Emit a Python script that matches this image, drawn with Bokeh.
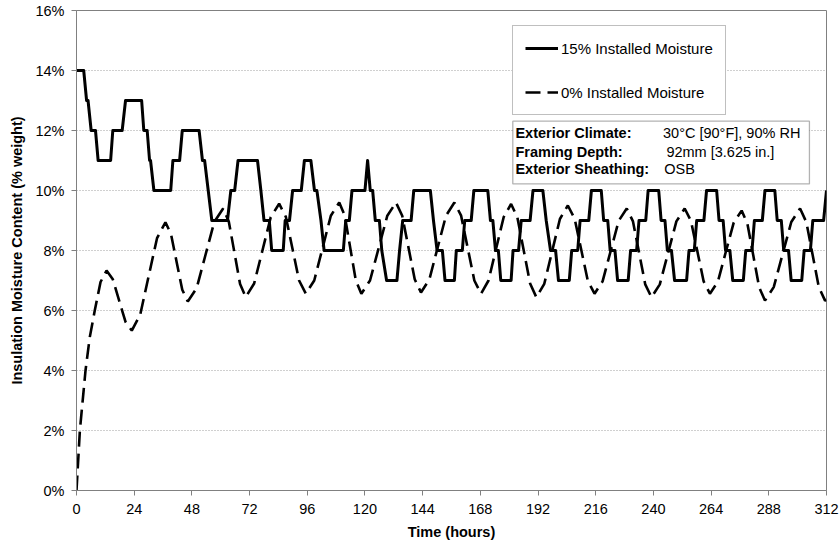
from bokeh.plotting import figure
from bokeh.models import Range1d, FixedTicker, Legend, LegendItem, BoxAnnotation, Label
from bokeh.embed import file_html
from bokeh.resources import INLINE

# ---------------- data ----------------
x_ticks = [0, 24, 48, 72, 96, 120, 144, 168, 192, 216, 240, 264, 288, 312]
y_ticks = [0, 2, 4, 6, 8, 10, 12, 14, 16]
y_tick_labels = ["0%", "2%", "4%", "6%", "8%", "10%", "12%", "14%", "16%"]

series_names = ["15% Installed Moisture", "0% Installed Moisture"]

# 15% installed moisture (time in hours, moisture content in % weight)
solid_hours = [0, 3, 4.2, 4.8, 6.1, 7.9, 9, 14.2, 15.1, 19, 20.4, 27.1, 28, 29.4, 30.4, 30.8,
               32.2, 39.2, 40.1, 42.9, 44, 51, 52.4, 53.3, 54.8, 56.3, 62.8, 64.2, 65.8, 67.2,
               75.3, 76.7, 78, 80.2, 81.2, 86, 86.8, 88.6, 89.9, 93.5, 94.8, 97.5, 99, 100,
               101.7, 103, 111, 112, 113.5, 114.6, 120, 121.1, 122.2, 123.2, 124.3, 126, 127,
               129, 133.3, 134.4, 135.7, 139.2, 140.3, 147.2, 148.5, 150, 152.2, 153.3, 157.2,
               158, 160.5, 161.5, 164.2, 165.3, 171.1, 172.2, 173.2, 174.3, 175.5, 176.5, 180.8,
               181.6, 183.9, 185, 188.7, 189.9, 194, 195.4, 197.2, 199.3, 200.5, 205, 206, 208.5,
               209.5, 213.1, 214.2, 218.3, 219.3, 221, 222, 224, 225.1, 229.5, 230.5, 233, 234,
               236.8, 237.8, 242.2, 243.2, 244.8, 245.8, 247.5, 248.8, 253.8, 254.8, 257, 258,
               261, 262.1, 266.3, 267.3, 269, 270, 271.8, 273, 277.4, 278.4, 281, 282, 285.3,
               286.4, 290.5, 291.5, 293.2, 294.2, 296.2, 297.3, 301.7, 302.7, 305.3, 306.3,
               310.8, 312]
solid_pct = [14, 14, 13, 13, 12, 12, 11, 11, 12, 12, 13, 13, 12, 12, 11, 11,
             10, 10, 11, 11, 12, 12, 11, 11, 10, 9, 9, 10, 10, 11,
             11, 10, 9, 9, 8, 8, 9, 9, 10, 10, 11, 11, 10, 10,
             9, 8, 8, 9, 9, 10, 10, 11, 10, 10, 9, 9, 8,
             7, 7, 8, 9, 9, 10, 10, 9, 8, 8, 7, 7,
             8, 8, 9, 9, 10, 10, 9, 9, 8, 8, 7, 7,
             8, 8, 9, 9, 10, 10, 9, 8, 8, 7, 7, 8, 8,
             9, 9, 10, 10, 9, 9, 8, 8, 7, 7, 8, 8, 9,
             9, 10, 10, 9, 9, 8, 8, 7, 7, 8, 8, 9,
             9, 10, 10, 9, 9, 8, 8, 7, 7, 8, 8, 9, 9,
             10, 10, 9, 9, 8, 8, 7, 7, 8, 8, 9,
             9, 10]

# 0% installed moisture
dashed_hours = [0, 1.4, 3.75, 5.5, 7.6, 10, 12.5, 15.1, 17.75, 20.4, 23, 26.5, 30, 33.5, 37,
                39.3, 41.65, 44, 46.3, 50, 53.65, 57.3, 61, 63.35, 65.7, 68.05, 70.4, 73.9,
                77.35, 80.8, 84.3, 87.1, 89.85, 92.6, 95.4, 98.9, 102.35, 105.8, 109.3, 111.6,
                113.9, 116.2, 118.5, 122.1, 125.7, 129.3, 132.9, 135.5, 138.1, 140.7, 143.3,
                146.8, 150.25, 153.7, 157.2, 160, 162.75, 165.5, 168.3, 171.4, 174.55, 177.7,
                180.8, 183.4, 186.05, 188.7, 191.3, 194.6, 197.85, 201.1, 204.4, 207.2, 209.95,
                212.7, 215.5, 218.85, 222.2, 225.55, 228.9, 231.5, 234.05, 236.6, 239.2, 242.65,
                246.1, 249.55, 253, 255.6, 258.25, 260.9, 263.5, 266.8, 270.1, 273.4, 276.7,
                279.1, 281.55, 284, 286.4, 290.05, 293.7, 297.35, 301, 303.6, 306.2, 308.8,
                311.4, 312]
dashed_pct = [0, 2, 4, 5.1, 6, 6.95, 7.33, 7.04, 6.33, 5.62, 5.33, 5.86, 7.14, 8.41, 8.94,
              8.55, 7.62, 6.69, 6.3, 6.75, 7.85, 8.95, 9.4, 8.97, 7.93, 6.88, 6.45, 6.9,
              8.0, 9.11, 9.56, 9.12, 8.06, 7.0, 6.56, 7.0, 8.08, 9.16, 9.6, 9.16,
              8.08, 7.0, 6.56, 7.0, 8.08, 9.16, 9.6, 9.16, 8.1, 7.04, 6.6,
              7.04, 8.1, 9.16, 9.6, 9.16, 8.08, 7.0, 6.56, 7.0, 8.06, 9.11,
              9.55, 9.1, 8.0, 6.9, 6.44, 6.89, 7.97, 9.05, 9.5, 9.07, 8.03,
              6.99, 6.56, 6.97, 7.98, 8.99, 9.4, 8.97, 7.92, 6.87, 6.44, 6.87,
              7.92, 8.97, 9.4, 8.99, 7.98, 6.97, 6.56, 6.96, 7.95, 8.93, 9.33,
              8.89, 7.83, 6.77, 6.33, 6.78, 7.87, 8.95, 9.4, 8.95, 7.87, 6.78,
              6.33, 6.35]

info_keys = ["Exterior Climate:", "Framing Depth:", "Exterior Sheathing:"]
info_values = ["30°C [90°F], 90% RH", "92mm [3.625 in.]", "OSB"]

# ---------------- figure ----------------
FONT = "Liberation Sans"
AXIS_GREY = "#808080"

p = figure(width=840, height=548, output_backend="svg", toolbar_location=None,
           x_range=Range1d(0, 312), y_range=Range1d(0, 16),
           min_border_left=76, min_border_right=14, min_border_top=10, min_border_bottom=58)
p.background_fill_color = "white"
p.border_fill_color = "white"
p.outline_line_color = AXIS_GREY
p.outline_line_width = 1

p.xaxis.ticker = FixedTicker(ticks=x_ticks)
p.yaxis.ticker = FixedTicker(ticks=y_ticks)
p.yaxis.major_label_overrides = {t: l for t, l in zip(y_ticks, y_tick_labels)}

for ax in (p.xaxis[0], p.yaxis[0]):
    ax.axis_line_color = AXIS_GREY
    ax.major_tick_line_color = AXIS_GREY
    ax.major_tick_in = 0
    ax.major_tick_out = 5
    ax.minor_tick_line_color = None
    ax.major_label_text_font = FONT
    ax.major_label_text_font_size = "14.5px"
    ax.major_label_text_color = "black"
    ax.axis_label_text_font = FONT
    ax.axis_label_text_font_size = "14.5px"
    ax.axis_label_text_font_style = "bold"
    ax.axis_label_text_color = "black"

p.xaxis.axis_label = "Time (hours)"
p.xaxis.major_label_standoff = 8
p.xaxis.axis_label_standoff = 7
p.yaxis.axis_label = "Insulation Moisture Content (% weight)"
p.yaxis.major_label_standoff = 7
p.yaxis.axis_label_standoff = 7

p.xgrid.visible = False
p.ygrid.grid_line_color = "#a0a0a0"
p.ygrid.grid_line_dash = "1 2"
p.ygrid.grid_line_width = 1

r1 = p.line(solid_hours, solid_pct, line_color="black", line_width=3, line_join="round")
r2 = p.line(dashed_hours, dashed_pct, line_color="black", line_width=2.6, line_dash="15 7")

legend = Legend(items=[LegendItem(label=series_names[0], renderers=[r1]),
                       LegendItem(label=series_names[1], renderers=[r2])],
                location=(436, 375), margin=0, padding=12, spacing=24,
                glyph_width=33, glyph_height=20, label_height=20, label_standoff=3,
                label_text_font=FONT, label_text_font_size="15px", label_text_color="black",
                border_line_color=AXIS_GREY, border_line_width=1,
                background_fill_color="white", background_fill_alpha=1)
p.add_layout(legend)

# info box (positions in data units of the frame)
box = BoxAnnotation(left=181.5, right=304.9, top=12.31, bottom=10.22,
                    fill_color="white", fill_alpha=1, line_color="black", line_width=1.3)
p.add_layout(box)
row_y = [11.92, 11.30, 10.72]
val_x = [244.0, 245.4, 244.5]
for k, v, yy, vx in zip(info_keys, info_values, row_y, val_x):
    p.add_layout(Label(x=182.6, y=yy, text=k, text_font=FONT, text_font_size="14.5px",
                       text_font_style="bold", text_baseline="middle", text_align="left",
                       text_color="black"))
    p.add_layout(Label(x=vx, y=yy, text=v, text_font=FONT, text_font_size="14.5px",
                       text_baseline="middle", text_align="left", text_color="black"))

open("out.html", "w").write(file_html(p, INLINE))
